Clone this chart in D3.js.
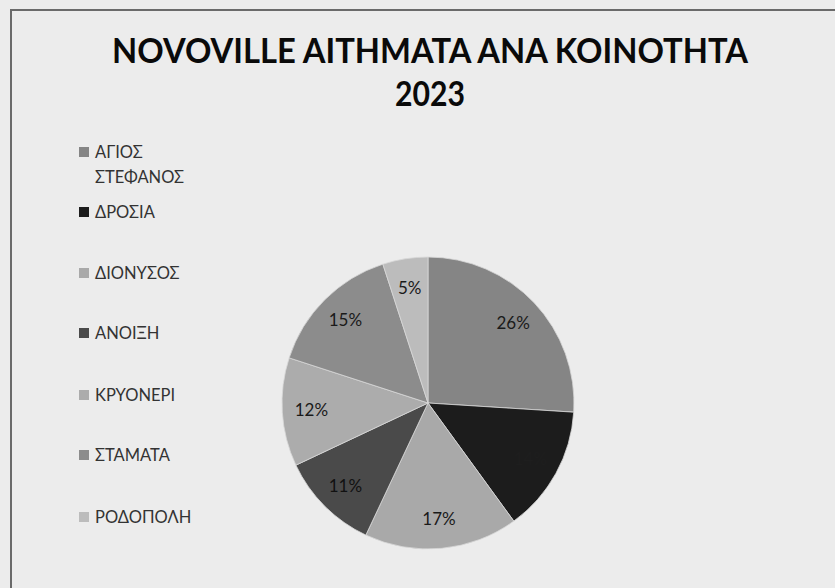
<!DOCTYPE html>
<html>
<head>
<meta charset="utf-8">
<title>NOVOVILLE</title>
<style>
  body { margin: 0; background: #ececec; }
  svg { display: block; }
</style>
</head>
<body>
<div class="plot_container"></div>
<script src="https://cdn.jsdelivr.net/npm/d3@7/dist/d3.min.js"></script>
<script>
var titleLines = ["NOVOVILLE AITHMATA ANA KOINOTHTA", "2023"];
var categories = ["ΑΓΙΟΣ ΣΤΕΦΑΝΟΣ", "ΔΡΟΣΙΑ", "ΔΙΟΝΥΣΟΣ", "ΑΝΟΙΞΗ", "ΚΡΥΟΝΕΡΙ", "ΣΤΑΜΑΤΑ", "ΡΟΔΟΠΟΛΗ"];
var legendLines = [["ΑΓΙΟΣ", "ΣΤΕΦΑΝΟΣ"], ["ΔΡΟΣΙΑ"], ["ΔΙΟΝΥΣΟΣ"], ["ΑΝΟΙΞΗ"], ["ΚΡΥΟΝΕΡΙ"], ["ΣΤΑΜΑΤΑ"], ["ΡΟΔΟΠΟΛΗ"]];
var percents = [26, 14, 17, 11, 12, 15, 5];
var colors = ["#858585", "#1c1c1c", "#a9a9a9", "#4a4a4a", "#acacac", "#8c8c8c", "#bcbcbc"];
var labelColors = ["#1a1a1a", "#1e1e1e", "#1a1a1a", "#111111", "#1a1a1a", "#1a1a1a", "#1a1a1a"];

var width = 835, height = 588;
var cx = 428, cy = 403, radius = 146;

var svg = d3.select(".plot_container").append("svg")
    .attr("width", width)
    .attr("height", height);

// frame (only left and top edges visible)
svg.append("rect")
    .attr("x", 11).attr("y", 10)
    .attr("width", 900).attr("height", 700)
    .style("fill", "#ececec")
    .style("stroke", "#6a6a6a")
    .style("stroke-width", 2);

// title
var titleWidths = [636, 70];
svg.selectAll(".title")
    .data(titleLines)
    .enter()
    .append("text")
    .attr("class", "title")
    .attr("x", 430)
    .attr("y", function(d, i){ return 63 + i * 43; })
    .attr("text-anchor", "middle")
    .attr("textLength", function(d, i){ return titleWidths[i]; })
    .attr("lengthAdjust", "spacingAndGlyphs")
    .style("font-family", "Lato, 'Open Sans', sans-serif")
    .style("font-weight", "bold")
    .style("font-size", "34px")
    .style("fill", "#0a0a0a")
    .text(function(d){ return d; });

// legend
var legendY = [152, 212, 273, 333, 395, 455, 517];
var legend = svg.selectAll(".legend")
    .data(categories)
    .enter()
    .append("g")
    .attr("class", "legend")
    .attr("transform", function(d, i){ return "translate(79," + legendY[i] + ")"; });

legend.append("rect")
    .attr("x", 0).attr("y", -5)
    .attr("width", 10).attr("height", 10)
    .style("fill", function(d, i){ return colors[i]; });

legend.each(function(d, i){
    d3.select(this).selectAll("text")
        .data(legendLines[i])
        .enter()
        .append("text")
        .attr("x", 16)
        .attr("y", function(t, j){ return 6 + j * 25; })
        .style("font-family", "Lato, 'Open Sans', sans-serif")
        .style("font-size", "16.5px")
        .style("fill", "#333")
        .text(function(t){ return t; });
});

// pie
var pie = d3.pie().sort(null).value(function(d){ return d; });
var arc = d3.arc().innerRadius(0).outerRadius(radius);
var labelArc = d3.arc().innerRadius(radius * 0.8).outerRadius(radius * 0.8);

var g = svg.append("g").attr("transform", "translate(" + cx + "," + cy + ")");

var arcs = pie(percents);

g.selectAll(".slice")
    .data(arcs)
    .enter()
    .append("path")
    .attr("class", "slice")
    .attr("d", arc)
    .style("fill", function(d, i){ return colors[i]; })
    .style("stroke", "#d8d8d8")
    .style("stroke-width", 0.8);

g.selectAll(".label")
    .data(arcs)
    .enter()
    .append("text")
    .attr("class", "label")
    .attr("transform", function(d){ return "translate(" + labelArc.centroid(d) + ")"; })
    .attr("text-anchor", "middle")
    .attr("dy", "0.35em")
    .style("font-family", "Lato, 'Open Sans', sans-serif")
    .style("font-size", "17px")
    .style("fill", function(d, i){ return labelColors[i]; })
    .text(function(d){ return d.data + "%"; });
</script>
</body>
</html>
